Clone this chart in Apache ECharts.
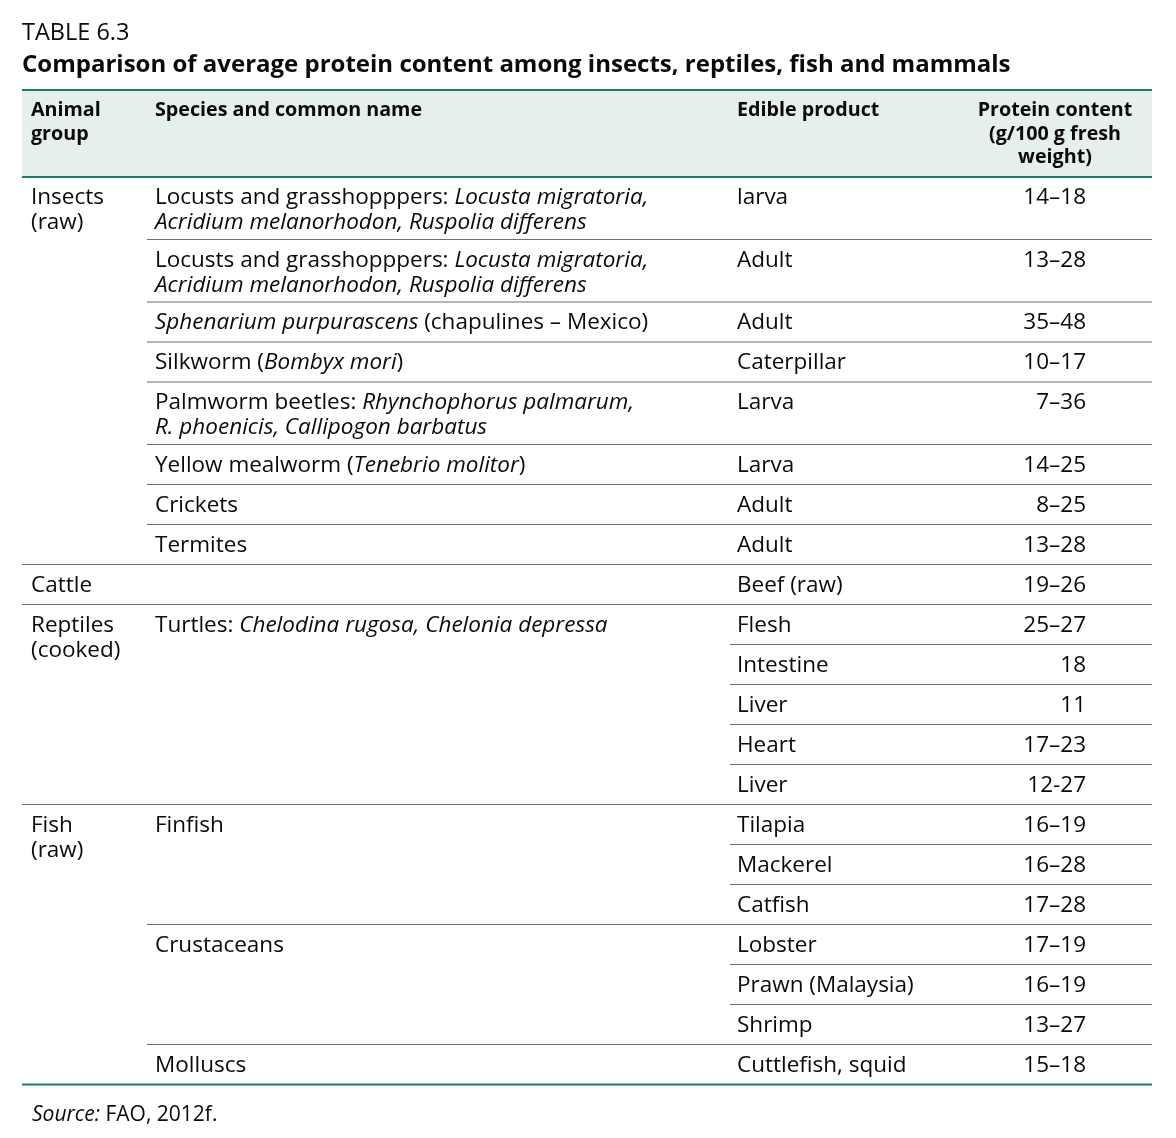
<!DOCTYPE html>
<html>
<head>
<meta charset="utf-8">
<script src="https://cdn.jsdelivr.net/npm/echarts@6/dist/echarts.min.js"></script>
<style>
html,body{margin:0;padding:0;background:#fff;}
#chart{width:1176px;height:1138px;}
</style>
</head>
<body>
<div id="chart"></div>
<script>
// ---- Data ----
const tableNumber = 'TABLE 6.3';
const tableTitle = 'Comparison of average protein content among insects, reptiles, fish and mammals';
const headers = ['Animal\ngroup', 'Species and common name', 'Edible product', 'Protein content\n(g/100 g fresh\nweight)'];
const groupNames = ['Insects\n(raw)', 'Cattle', 'Reptiles\n(cooked)', 'Fish\n(raw)'];
const groupSpans = [8, 1, 5, 7];
const speciesNames = [
  'Locusts and grasshopppers: {i|Locusta migratoria,}\n{i|Acridium melanorhodon, Ruspolia differens}',
  'Locusts and grasshopppers: {i|Locusta migratoria,}\n{i|Acridium melanorhodon, Ruspolia differens}',
  '{i|Sphenarium purpurascens} (chapulines – Mexico)',
  'Silkworm ({i|Bombyx mori})',
  'Palmworm beetles: {i|Rhynchophorus palmarum,}\n{i|R. phoenicis, Callipogon barbatus}',
  'Yellow mealworm ({i|Tenebrio molitor})',
  'Crickets',
  'Termites',
  '',
  'Turtles: {i|Chelodina rugosa, Chelonia depressa}',
  'Finfish',
  'Crustaceans',
  'Molluscs'
];
const speciesSpans = [1, 1, 1, 1, 1, 1, 1, 1, 1, 5, 3, 3, 1];
const products = ['larva', 'Adult', 'Adult', 'Caterpillar', 'Larva', 'Larva', 'Adult', 'Adult', 'Beef (raw)',
  'Flesh', 'Intestine', 'Liver', 'Heart', 'Liver',
  'Tilapia', 'Mackerel', 'Catfish', 'Lobster', 'Prawn (Malaysia)', 'Shrimp', 'Cuttlefish, squid'];
const protein = ['14–18', '13–28', '35–48', '10–17', '7–36', '14–25', '8–25', '13–28', '19–26',
  '25–27', '18', '11', '17–23', '12-27',
  '16–19', '16–28', '17–28', '17–19', '16–19', '13–27', '15–18'];
const sourceNote = '{i|Source:} FAO, 2012f.';

// ---- Layout ----
const FONT = '"Open Sans", "Noto Sans", sans-serif';
const FS = 22.5;
const INK = '#0a0a0a';
const TEAL = '#1d7a69';
const GREY = '#707070';
const X0 = 22, X1 = 1152;
const colX = [31, 155, 737, 1086];
const colLineStart = [X0, 147, 730];
const headTop = 90, headBottom = 177;
const LH = 25;
const DY = 1.8;

const chart = echarts.init(document.getElementById('chart'), null, {renderer: 'canvas'});
const g = [];
const rich = {i: {fontStyle: 'italic', fontFamily: FONT, fontSize: FS, lineHeight: LH, fill: INK}};

function txt(x, y, text, opts) {
  opts = opts || {};
  g.push({
    type: 'text', x: x, y: y + DY, silent: true,
    style: Object.assign({
      text: text, fill: INK, fontFamily: FONT, fontSize: FS, lineHeight: LH,
      align: 'left', verticalAlign: 'top', rich: rich
    }, opts)
  });
}
function line(x1, y, x2, color, w) {
  g.push({type: 'line', silent: true, shape: {x1: x1, y1: y, x2: x2, y2: y},
    style: {stroke: color, lineWidth: w}});
}

// titles
txt(X0, 32 - 13, tableNumber, {fontSize: 23.5, lineHeight: 26});
txt(X0, 63 - 14, tableTitle, {fontSize: 24, fontWeight: 'bold', lineHeight: 28});

// header
g.push({type: 'rect', silent: true, shape: {x: X0, y: headTop, width: X1 - X0, height: headBottom - headTop},
  style: {fill: '#e5efec'}});
const hLH = 23.5;
const hy = 109 - hLH / 2;
const hOpts = {fontWeight: 'bold', lineHeight: hLH, fontSize: 19.7};
txt(colX[0], hy, headers[0], hOpts);
txt(colX[1], hy, headers[1], hOpts);
txt(colX[2], hy, headers[2], hOpts);
txt(1055, hy, headers[3], Object.assign({align: 'center'}, hOpts));
line(X0, headTop, X1, TEAL, 2.2);
line(X0, headBottom, X1, TEAL, 2.2);

// compute per-row line counts
const nRows = products.length;
const rowLines = new Array(nRows).fill(1);
const speciesStart = [];
let r = 0;
speciesSpans.forEach((s, k) => {
  speciesStart.push(r);
  if (s === 1) rowLines[r] = speciesNames[k].split('\n').length;
  r += s;
});
const groupStart = [];
r = 0;
groupSpans.forEach(s => { groupStart.push(r); r += s; });

const rowTop = [];
let y = headBottom;
for (let i = 0; i < nRows; i++) {
  rowTop.push(y);
  y += rowLines[i] === 1 ? 40 : 62.5;
}
const tableBottom = y;
const PAD = 19 - LH / 2;

// group cells
groupNames.forEach((t, k) => txt(colX[0], rowTop[groupStart[k]] + PAD, t));
// species cells
speciesNames.forEach((t, k) => { if (t) txt(colX[1], rowTop[speciesStart[k]] + PAD, t); });
// product + protein
for (let i = 0; i < nRows; i++) {
  txt(colX[2], rowTop[i] + PAD, products[i]);
  txt(colX[3], rowTop[i] + PAD, protein[i], {align: 'right'});
}

// separators
const groupEnds = new Set(), speciesEnds = new Set();
groupStart.forEach((s, k) => groupEnds.add(s + groupSpans[k] - 1));
speciesStart.forEach((s, k) => speciesEnds.add(s + speciesSpans[k] - 1));
for (let i = 0; i < nRows - 1; i++) {
  const yy = rowTop[i + 1];
  const start = groupEnds.has(i) ? colLineStart[0] : (speciesEnds.has(i) ? colLineStart[1] : colLineStart[2]);
  line(start, yy, X1, GREY, 1.2);
}
line(X0, tableBottom, X1, TEAL, 2.2);

// source
const SFS = 21;
txt(32, tableBottom + 29 - 12, sourceNote, {fontSize: SFS, lineHeight: 24,
  rich: {i: {fontStyle: 'italic', fontFamily: FONT, fontSize: SFS, lineHeight: 24, fill: INK}}});

chart.setOption({animation: false, graphic: {elements: g}});
</script>
</body>
</html>
